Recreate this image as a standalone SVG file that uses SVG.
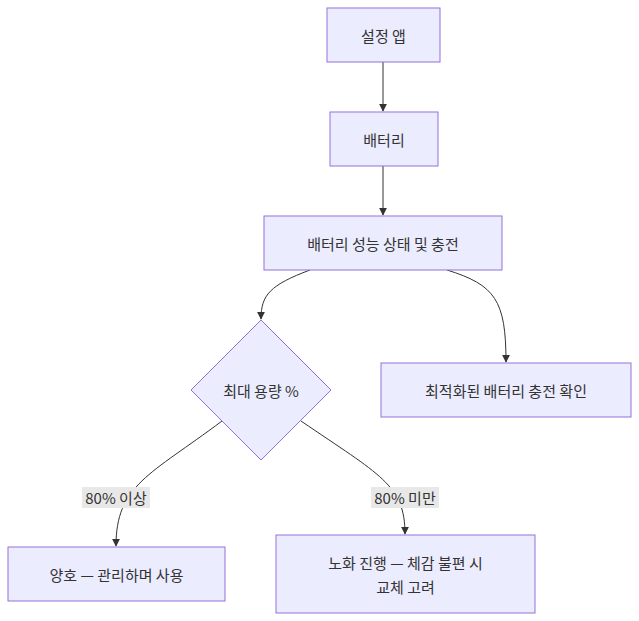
<svg xmlns="http://www.w3.org/2000/svg" width="639" height="621" viewBox="0 0 639 621">
<style>
.n{fill:#ECECFF;stroke:#9370DB;stroke-width:1}
.t{font-family:"Noto Sans CJK KR","Liberation Sans",sans-serif;font-size:15px;fill:#333;text-anchor:middle;dominant-baseline:central}
.e{fill:none;stroke:#333;stroke-width:1}
.lb{fill:#e8e8e8}
</style>
<defs><marker id="a" viewBox="0 0 10 10" refX="9" refY="5" markerWidth="8" markerHeight="8" orient="auto"><path d="M0,0L10,5L0,10z" fill="#333"/></marker></defs>
<rect width="639" height="621" fill="#fff"/>
<g id="edges">
<path class="e" d="M383,62V111" marker-end="url(#a)"/>
<path class="e" d="M383,166V215" marker-end="url(#a)"/>
<path class="e" d="M310,270C270,285 261,295 261,319" marker-end="url(#a)"/>
<path class="e" d="M447,270C495,285 506,300 506,362" marker-end="url(#a)"/>
<path class="e" d="M222,421C150,475 116,485 116,546" marker-end="url(#a)"/>
<path class="e" d="M301,421C380,475 405,485 405,534" marker-end="url(#a)"/>
<rect class="lb" x="82" y="487" width="68" height="21"/>
<text class="t" x="116" y="497">80% 이상</text>
<rect class="lb" x="371" y="487" width="68" height="21"/>
<text class="t" x="405" y="497">80% 미만</text>
</g>
<g id="n1"><rect class="n" x="327" y="8" width="113" height="54"/><text class="t" x="383.5" y="35">설정 앱</text></g>
<g id="n2"><rect class="n" x="330" y="112" width="108" height="54"/><text class="t" x="384" y="139">배터리</text></g>
<g id="n3"><rect class="n" x="264" y="216" width="238" height="54"/><text class="t" x="383" y="243">배터리 성능 상태 및 충전</text></g>
<g id="n4"><path class="n" d="M261,320L331,390L261,460L191,390Z"/><text class="t" x="261" y="390">최대 용량 %</text></g>
<g id="n5"><rect class="n" x="381" y="363" width="250" height="54"/><text class="t" x="506" y="390">최적화된 배터리 충전 확인</text></g>
<g id="n6"><rect class="n" x="8" y="547" width="217" height="54"/><text class="t" x="116.5" y="574">양호 — 관리하며 사용</text></g>
<g id="n7"><rect class="n" x="276" y="535" width="259" height="78"/><text class="t" x="405.5" y="562">노화 진행 — 체감 불편 시</text><text class="t" x="405.5" y="586">교체 고려</text></g>
</svg>
